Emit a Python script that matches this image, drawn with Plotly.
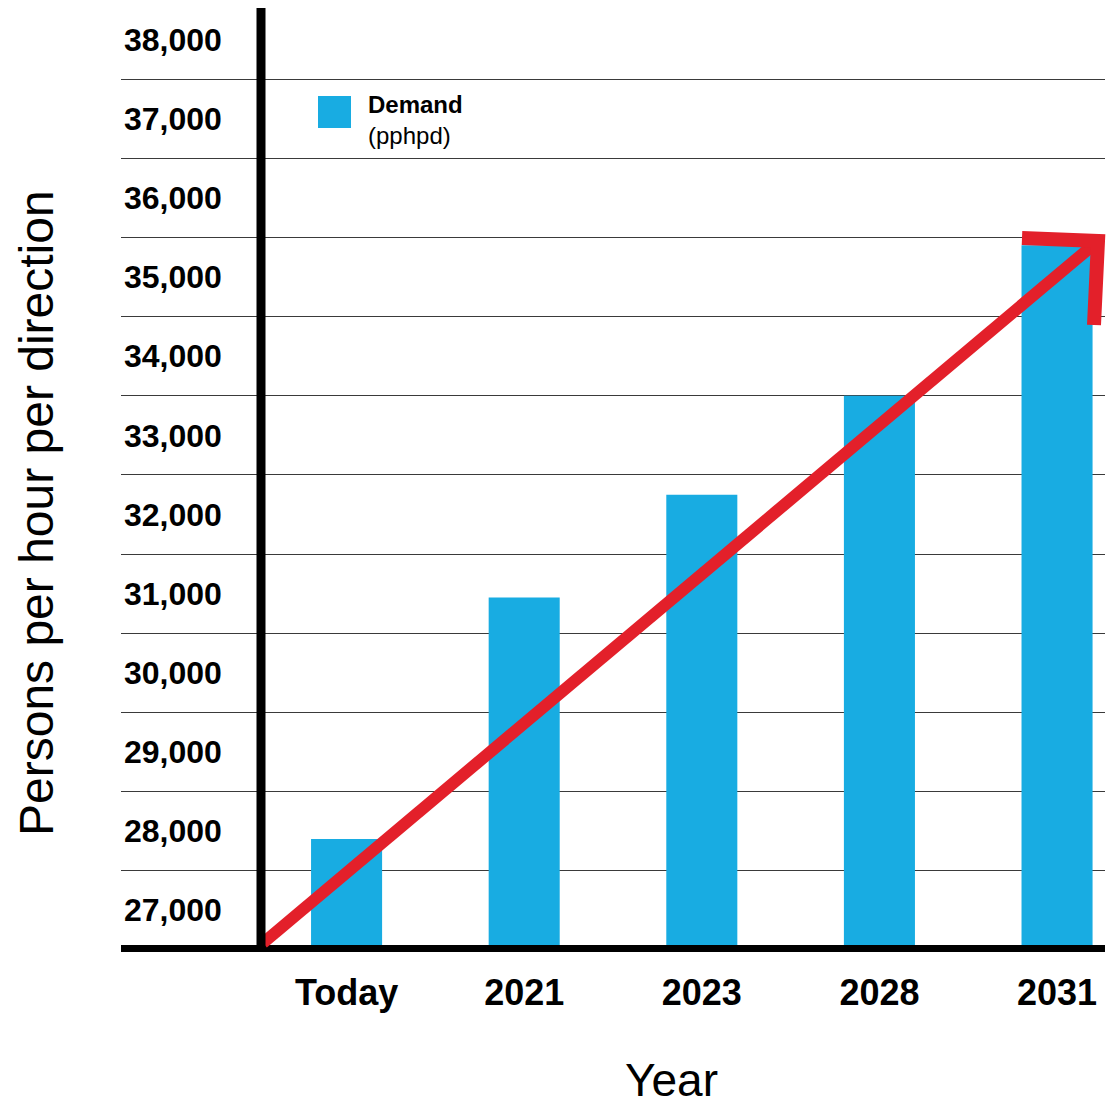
import plotly.graph_objects as go

# ---- data ----
categories = ["Today", "2021", "2023", "2028", "2031"]
demand = [27900, 30950, 32250, 33500, 35400]
y_tick_values = [27000, 28000, 29000, 30000, 31000, 32000, 33000, 34000, 35000, 36000, 37000, 38000]
y_tick_labels = ["27,000", "28,000", "29,000", "30,000", "31,000", "32,000",
                 "33,000", "34,000", "35,000", "36,000", "37,000", "38,000"]

BLUE = "#18ACE2"
RED = "#E3202A"
FONT = "Liberation Sans, Arial, Helvetica, sans-serif"

W, H = 1110, 1106
ML, MR, MT, MB = 121, 5, 0, 161
PW, PH = W - ML - MR, H - MT - MB


def px(x):
    return (x - ML) / PW


def py(y):
    return (H - MB - y) / PH


fig = go.Figure()
fig.add_trace(go.Bar(
    x=categories, y=demand, marker=dict(color=BLUE, line=dict(width=0)),
    width=0.4, name="Demand (pphpd)", showlegend=False,
))

fig.update_layout(
    width=W, height=H,
    margin=dict(l=ML, r=MR, t=MT, b=MB),
    paper_bgcolor="white", plot_bgcolor="white",
    font=dict(family=FONT, color="black"),
    xaxis=dict(
        type="category", range=[-1.27, 4.27],
        showgrid=False, zeroline=False,
        showline=True, linecolor="black", linewidth=7,
        ticks="outside", ticklen=10, tickcolor="rgba(0,0,0,0)",
        tickfont=dict(size=36, family=FONT, color="black", weight="bold"),
    ),
    yaxis=dict(
        range=[26560, 38500],
        tickvals=y_tick_values, ticktext=y_tick_labels,
        ticklabelposition="inside", ticks="",
        showgrid=False, zeroline=False, showline=False,
        tickfont=dict(size=32, family=FONT, color="black", weight="bold"),
        minor=dict(tick0=500, dtick=1000, showgrid=True,
                   gridcolor="#3a3a3a", gridwidth=1.3),
    ),
)

shapes = []
# red trend arrow (decorative)
shapes.append(dict(type="line", xref="paper", yref="paper",
                   x0=px(263), y0=py(943), x1=px(1098), y1=py(241),
                   line=dict(color=RED, width=12)))
shapes.append(dict(type="path", xref="paper", yref="paper",
                   path=f"M {px(1022)},{py(238)} L {px(1098)},{py(241)} L {px(1094)},{py(325)}",
                   line=dict(color=RED, width=14)))
# vertical axis line
shapes.append(dict(type="line", xref="paper", yref="paper",
                   x0=px(261), x1=px(261), y0=py(950), y1=py(8),
                   line=dict(color="black", width=9)))
# legend swatch
shapes.append(dict(type="rect", xref="paper", yref="paper",
                   x0=px(318), x1=px(351), y0=py(128), y1=py(96),
                   fillcolor=BLUE, line=dict(width=0)))
fig.update_layout(shapes=shapes)

fig.add_annotation(xref="paper", yref="paper", x=px(366), y=py(89),
                   xanchor="left", yanchor="top", align="left", showarrow=False,
                   text="<b>Demand</b><br>(pphpd)",
                   font=dict(size=24, family=FONT, color="black"))
fig.add_annotation(xref="paper", yref="paper", x=px(36), y=py(513),
                   xanchor="center", yanchor="middle", textangle=-90, showarrow=False,
                   text="Persons per hour per direction",
                   font=dict(size=48, family=FONT, color="black"))
fig.add_annotation(xref="paper", yref="paper", x=px(671), y=py(1080),
                   xanchor="center", yanchor="middle", showarrow=False,
                   text="Year",
                   font=dict(size=46, family=FONT, color="black"))

fig.write_html("out.html")
